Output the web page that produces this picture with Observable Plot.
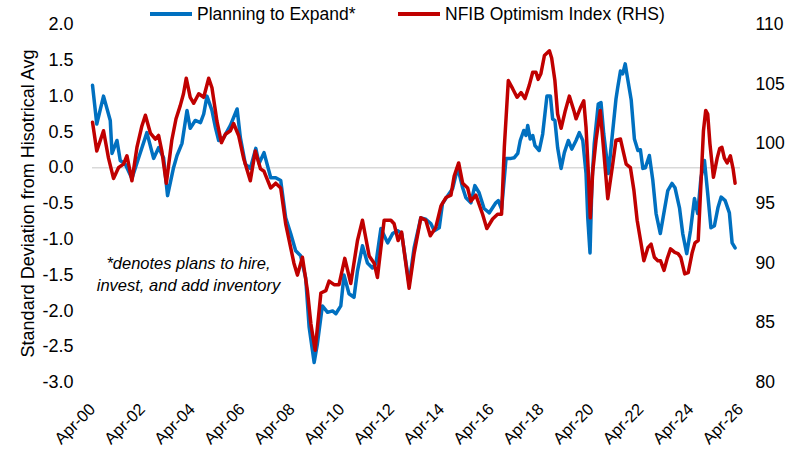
<!DOCTYPE html>
<html><head><meta charset="utf-8">
<script src="https://cdn.jsdelivr.net/npm/d3@7"></script>
<script src="https://cdn.jsdelivr.net/npm/@observablehq/plot@0.6"></script>
<style>
body{margin:0;background:#fff;}
#wrap{position:relative;width:805px;height:453px;font-family:"Liberation Sans",Arial,sans-serif;color:#000;}
#legend{position:absolute;top:0;left:0;width:805px;height:28px;z-index:2;}
.item{position:absolute;top:3px;display:flex;align-items:center;font-size:17.5px;line-height:22px;white-space:nowrap;}
.sw{width:42px;height:4px;margin-right:5px;}
</style></head>
<body>
<div id="wrap">
  <div id="legend"></div>
  <div id="chart"></div>
</div>
<script>
// ---- data (decimal years) ----
const blueT = [2000.25,2000.42,2000.69,2000.96,2001.03,2001.23,2001.36,2001.56,2001.83,2002.10,
2002.43,2002.70,2002.90,2003.10,2003.26,2003.50,2003.64,2003.84,2004.04,2004.17,
2004.37,2004.58,2004.71,2004.84,2005.04,2005.18,2005.31,2005.51,2005.78,2006.05,
2006.18,2006.38,2006.58,2006.80,2006.93,2007.13,2007.40,2007.60,2007.80,2008.00,
2008.20,2008.40,2008.60,2008.80,2008.94,2009.14,2009.27,2009.47,2009.68,2009.88,
2010.01,2010.21,2010.34,2010.54,2010.74,2010.88,2011.08,2011.28,2011.48,2011.62,
2011.82,2012.09,2012.29,2012.49,2012.65,2012.95,2013.15,2013.42,2013.62,2013.82,
2013.96,2014.16,2014.29,2014.50,2014.70,2014.90,2015.10,2015.23,2015.43,2015.59,
2015.76,2015.96,2016.17,2016.43,2016.53,2016.66,2016.84,2017.04,2017.17,2017.31,
2017.41,2017.55,2017.64,2017.71,2017.81,2017.91,2018.00,2018.17,2018.31,2018.40,
2018.48,2018.62,2018.71,2018.80,2018.91,2019.05,2019.18,2019.34,2019.48,2019.65,
2019.78,2019.92,2020.05,2020.12,2020.21,2020.29,2020.38,2020.54,2020.65,2020.76,
2020.95,2021.08,2021.25,2021.32,2021.43,2021.52,2021.62,2021.72,2021.86,2021.99,
2022.13,2022.23,2022.33,2022.43,2022.59,2022.73,2022.86,2023.03,2023.19,2023.33,
2023.50,2023.62,2023.80,2023.93,2024.09,2024.24,2024.40,2024.53,2024.66,2024.80,
2024.93,2025.06,2025.20,2025.34,2025.47,2025.63,2025.80,2025.91,2026.03];
const blueV = [1.15,0.61,1.00,0.66,0.20,0.38,0.10,0.05,-0.15,0.14,
0.49,0.13,0.28,0.14,-0.39,0.00,0.17,0.34,0.80,0.55,
0.66,0.63,0.75,1.00,0.80,0.56,0.38,0.42,0.59,0.82,
0.42,0.05,-0.01,0.27,0.06,0.21,-0.14,-0.14,-0.18,-0.70,
-0.92,-1.16,-1.23,-1.54,-2.23,-2.72,-2.46,-1.93,-2.02,-2.00,
-2.04,-1.93,-1.50,-1.76,-1.81,-1.44,-1.09,-1.33,-1.40,-1.34,
-0.85,-1.05,-0.92,-0.88,-0.92,-1.62,-1.12,-0.70,-0.72,-0.78,
-0.88,-0.84,-0.50,-0.39,-0.29,0.00,-0.28,-0.42,-0.49,-0.25,
-0.35,-0.57,-0.63,-0.49,-0.46,-0.58,0.13,0.13,0.14,0.20,
0.38,0.52,0.45,0.59,0.40,0.45,0.31,0.24,0.47,0.75,
1.00,1.00,0.68,0.66,0.28,-0.01,0.21,0.38,0.26,0.38,
0.49,0.38,-0.08,-0.70,-1.19,-0.18,0.34,0.89,0.91,0.47,
-0.08,0.38,0.96,1.12,1.35,1.31,1.45,1.24,0.95,0.40,
0.24,0.25,-0.01,0.00,0.17,-0.18,-0.64,-0.92,-0.60,-0.32,
-0.22,-0.28,-0.56,-0.92,-1.20,-0.88,-0.43,-0.64,-0.14,0.10,
-0.36,-0.84,-0.81,-0.56,-0.41,-0.46,-0.63,-1.05,-1.12];

const redT = [2000.25,2000.42,2000.69,2000.89,2001.09,2001.29,2001.49,2001.63,2001.83,2002.03,
2002.23,2002.37,2002.57,2002.77,2002.90,2003.03,2003.21,2003.43,2003.60,2003.77,
2003.90,2004.01,2004.17,2004.31,2004.51,2004.71,2004.91,2005.04,2005.24,2005.42,
2005.58,2005.78,2005.91,2006.11,2006.31,2006.58,2006.78,2006.99,2007.13,2007.40,
2007.60,2007.80,2008.00,2008.20,2008.33,2008.47,2008.67,2008.87,2009.01,2009.18,
2009.41,2009.61,2009.74,2009.94,2010.14,2010.37,2010.61,2010.88,2011.08,2011.35,
2011.55,2011.68,2011.95,2012.22,2012.35,2012.51,2012.65,2012.95,2013.15,2013.42,
2013.62,2013.80,2014.02,2014.23,2014.43,2014.63,2014.76,2014.94,2015.10,2015.30,
2015.43,2015.63,2015.90,2016.07,2016.30,2016.50,2016.66,2016.77,2016.93,2017.11,
2017.28,2017.44,2017.60,2017.77,2017.91,2018.04,2018.13,2018.24,2018.38,2018.58,
2018.67,2018.80,2018.91,2019.05,2019.22,2019.38,2019.56,2019.65,2019.82,2019.96,
2020.05,2020.14,2020.22,2020.32,2020.45,2020.62,2020.76,2020.92,2021.12,2021.25,
2021.43,2021.56,2021.66,2021.83,2021.97,2022.10,2022.26,2022.37,2022.53,2022.66,
2022.79,2022.93,2023.04,2023.18,2023.31,2023.44,2023.61,2023.74,2023.85,2024.01,
2024.15,2024.31,2024.42,2024.55,2024.66,2024.76,2024.85,2024.93,2025.02,2025.16,
2025.31,2025.41,2025.50,2025.60,2025.71,2025.84,2025.95,2026.03];
const redV = [101.8,99.4,101.1,98.8,97.1,98.0,98.3,99.0,96.9,99.7,
101.5,102.4,100.9,100.4,100.7,99.4,96.7,100.3,102.1,103.2,
104.2,105.5,103.9,103.4,104.2,103.9,105.5,104.7,101.9,100.1,
100.8,101.1,101.7,100.7,98.8,96.9,99.4,97.9,97.7,96.3,
96.7,96.3,93.3,91.3,90.0,89.0,90.5,87.7,84.9,82.7,
87.5,87.7,88.5,88.2,88.2,90.4,88.3,91.9,93.6,90.6,
90.0,88.8,93.6,93.6,93.3,91.9,92.6,87.9,90.8,93.8,
93.6,92.3,93.0,94.8,95.5,95.7,97.3,98.4,96.7,96.3,
95.2,95.7,94.1,92.9,93.7,94.1,94.1,99.7,105.3,104.6,
103.9,104.3,103.8,104.9,106.0,106.0,105.4,105.9,107.4,107.8,
107.2,105.3,102.5,101.3,102.8,104.0,102.8,102.1,103.0,103.6,
101.4,97.7,93.8,97.7,100.3,102.8,99.4,95.4,98.3,100.3,
100.4,99.2,98.3,98.0,96.1,93.6,91.6,90.2,91.3,91.6,
90.5,90.2,90.2,89.4,90.4,91.2,90.9,90.8,90.5,89.1,
89.2,90.9,91.7,91.9,96.7,101.1,102.8,102.5,100.0,97.2,
98.8,99.6,99.7,98.8,98.4,99.0,97.9,96.7];

const leftTicks = [-3.0,-2.5,-2.0,-1.5,-1.0,-0.5,0.0,0.5,1.0,1.5,2.0];
const rightTicks = [80,85,90,95,100,105,110];
const xTickYears = [2000,2002,2004,2006,2008,2010,2012,2014,2016,2018,2020,2022,2024,2026];
const seriesNames = ["Planning to Expand*","NFIB Optimism Index (RHS)"];
const seriesColors = ["#0070C0","#C00000"];
const yLabel = "Standard Deviation from Hisotrical Avg";
const noteText = ["*denotes plans to hire,\ninvest, and add inventory"];
const noteAt = [{t: 2004.1, v: -1.47}];

// ---- helpers ----
const toDate = t => { const y = Math.floor(t); const a = Date.UTC(y,0,1), b = Date.UTC(y+1,0,1); return new Date(a + (t - y) * (b - a)); };
const rMin = 80, rMax = 110, lMin = -3, lMax = 2;
const toLeft = r => lMin + (r - rMin) * (lMax - lMin) / (rMax - rMin);
const toRight = l => rMin + (l - lMin) * (rMax - rMin) / (lMax - lMin);

const blue = blueT.map((t,i) => ({date: toDate(t), value: blueV[i]}));
const red = redT.map((t,i) => ({date: toDate(t), value: toLeft(redV[i])}));
const xTicks = xTickYears.map(y => new Date(Date.UTC(y,3,1)));
const notes = noteAt.map((d,i) => ({date: toDate(d.t), value: d.v, text: noteText[i]}));

const FONT = '"Liberation Sans",Arial,sans-serif';

const chart = Plot.plot({
  width: 805, height: 453,
  marginLeft: 92, marginRight: 65, marginTop: 24, marginBottom: 71,
  x: {type: "utc", domain: [xTicks[0], xTicks[xTicks.length-1]]},
  y: {domain: [lMin, lMax]},
  style: {fontFamily: FONT, fontSize: "17px", color: "#000", background: "#fff", overflow: "visible"},
  marks: [
    Plot.ruleY([0], {stroke: "#d9d9d9", strokeWidth: 1.5}),
    Plot.axisY(leftTicks, {anchor: "left", tickSize: 0, tickPadding: 19, tickFormat: d => d.toFixed(1),
      label: yLabel, labelAnchor: "center", labelOffset: 71, labelArrow: false, fontSize: 18}),
    Plot.axisY(rightTicks.map(toLeft), {anchor: "right", tickSize: 0, tickPadding: 15,
      tickFormat: d => String(Math.round(toRight(d))), label: null, fontSize: 17.5}),
    Plot.axisX(xTicks, {anchor: "bottom", tickSize: 0, tickPadding: 24, tickRotate: -45, fontSize: 16.5,
      tickFormat: d => "Apr-" + String(d.getUTCFullYear() % 100).padStart(2, "0"), label: null}),
    Plot.line(blue, {x: "date", y: "value", stroke: seriesColors[0], strokeWidth: 3.5, curve: "linear"}),
    Plot.line(red, {x: "date", y: "value", stroke: seriesColors[1], strokeWidth: 3.5, curve: "linear"}),
    Plot.text(notes, {x: "date", y: "value", text: "text", fontStyle: "italic", fontSize: 16.5, lineHeight: 1.33, fill: "#000"})
  ]
});
document.getElementById("chart").append(chart);

// legend
const legend = document.getElementById("legend");
const legendLeft = [150, 398];
seriesNames.forEach((name, i) => {
  const item = document.createElement("div");
  item.className = "item";
  item.style.left = legendLeft[i] + "px";
  const sw = document.createElement("span");
  sw.className = "sw";
  sw.style.background = seriesColors[i];
  const tx = document.createElement("span");
  tx.textContent = name;
  item.append(sw, tx);
  legend.append(item);
});
</script>
</body></html>
